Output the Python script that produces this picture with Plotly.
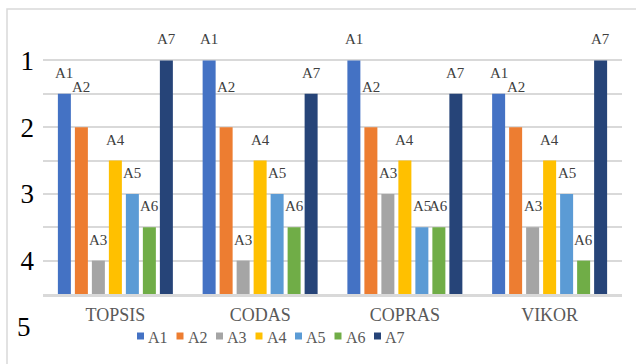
import plotly.graph_objects as go

# Ranking of alternatives A1..A7 under each MCDM method
methods = ["TOPSIS", "CODAS", "COPRAS", "VIKOR"]
alternatives = ["A1", "A2", "A3", "A4", "A5", "A6", "A7"]
rank_a1 = [1.5, 1.0, 1.0, 1.5]
rank_a2 = [2.0, 2.0, 2.0, 2.0]
rank_a3 = [4.0, 4.0, 3.0, 3.5]
rank_a4 = [2.5, 2.5, 2.5, 2.5]
rank_a5 = [3.0, 3.0, 3.5, 3.0]
rank_a6 = [3.5, 3.5, 3.5, 4.0]
rank_a7 = [1.0, 1.5, 1.5, 1.0]
ranks = [rank_a1, rank_a2, rank_a3, rank_a4, rank_a5, rank_a6, rank_a7]

colors = ["#4472C4", "#ED7D31", "#A5A5A5", "#FFC000", "#5B9BD5", "#70AD47", "#264478"]

axis_floor = 4.5
axis_top = 0.5
bargap = 0.178
bargroupgap = 0.235
font_family = "Liberation Serif, DejaVu Serif, serif"

W, H = 636, 364
margin = dict(l=43, r=14, t=27, b=70)
plot_w = W - margin["l"] - margin["r"]
plot_h = H - margin["t"] - margin["b"]

fig = go.Figure()
n = len(alternatives)
slot = (1 - bargap) / n
annotations = []
shapes = []
for j, (name, vals, col) in enumerate(zip(alternatives, ranks, colors)):
    fig.add_trace(go.Bar(
        name=name,
        x=methods,
        y=[v - axis_floor for v in vals],
        base=[axis_floor] * len(vals),
        marker=dict(color=col, line=dict(width=0)),
        hoverinfo="skip",
        showlegend=False,
    ))
    # series name shown above the top of each bar
    for i, v in enumerate(vals):
        annotations.append(dict(
            x=i + (j - (n - 1) / 2) * slot, y=v, xref="x", yref="y",
            text=name, showarrow=False, yanchor="middle",
            yshift=40 if name == "A2" else 21,
            font=dict(family=font_family, size=15, color="#404040"),
        ))

# rank 5 label sits below the category axis
annotations.append(dict(
    x=0, y=(axis_floor - 5) / (axis_floor - axis_top), xref="paper", yref="paper",
    xanchor="right", xshift=-10, yanchor="middle",
    text="5", showarrow=False,
    font=dict(family=font_family, size=27, color="#000000"),
))

# compact legend row: small square swatch followed by the series name
legend_left = 137
legend_step = 39.5
legend_cy = 336
sq = 7
for j, (name, col) in enumerate(zip(alternatives, colors)):
    px0 = legend_left + j * legend_step
    shapes.append(dict(
        type="rect", xref="paper", yref="paper",
        x0=(px0 - margin["l"]) / plot_w, x1=(px0 + sq - margin["l"]) / plot_w,
        y0=(H - margin["b"] - legend_cy - sq / 2) / plot_h,
        y1=(H - margin["b"] - legend_cy + sq / 2) / plot_h,
        line=dict(width=0), fillcolor=col,
    ))
    annotations.append(dict(
        x=(px0 + sq + 2 - margin["l"]) / plot_w,
        y=(H - margin["b"] - legend_cy - 1) / plot_h,
        xref="paper", yref="paper", xanchor="left", yanchor="middle",
        text=name, showarrow=False,
        font=dict(family=font_family, size=16, color="#595959"),
    ))

# light chart frame
shapes.append(dict(
    type="rect", xref="paper", yref="paper",
    x0=(7 - margin["l"]) / plot_w, x1=1.05,
    y0=-0.3, y1=(H - margin["b"] - 9) / plot_h,
    line=dict(color="#D9D9D9", width=1.5), fillcolor="rgba(0,0,0,0)",
    layer="below",
))

tickvals = [0.5, 1, 1.5, 2, 2.5, 3, 3.5, 4]
ticktext = ["" if t != int(t) else str(int(t)) for t in tickvals]

fig.update_layout(
    width=W, height=H,
    margin=margin,
    paper_bgcolor="white", plot_bgcolor="white",
    barmode="group", bargap=bargap, bargroupgap=bargroupgap,
    font=dict(family=font_family),
    annotations=annotations,
    shapes=shapes,
    showlegend=False,
)

fig.update_yaxes(
    range=[axis_floor, axis_top], tickvals=tickvals, ticktext=ticktext,
    showgrid=True, gridcolor="#D9D9D9", gridwidth=1.5,
    zeroline=False, showline=False, ticks="",
    ticklabelstandoff=8,
    tickfont=dict(family=font_family, size=27, color="#000000"),
)
fig.update_xaxes(
    showline=True, linecolor="#D9D9D9", linewidth=2.5, ticks="",
    ticklabelstandoff=3,
    tickfont=dict(family=font_family, size=18, color="#595959"),
)

fig.write_html("out.html")
